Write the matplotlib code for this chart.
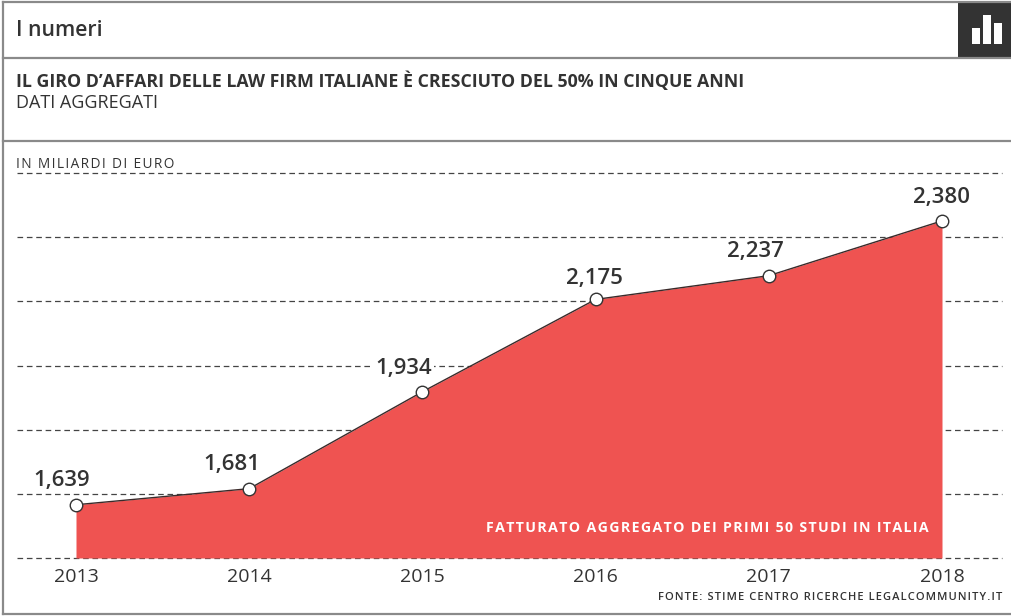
import matplotlib
matplotlib.use("Agg")
import matplotlib.pyplot as plt
from matplotlib.patches import Rectangle
from matplotlib.lines import Line2D

years = [2013, 2014, 2015, 2016, 2017, 2018]
revenue = [1639, 1681, 1934, 2175, 2237, 2380]
revenue_labels = ["1,639", "1,681", "1,934", "2,175", "2,237", "2,380"]
grid_levels = [1500, 1667.5, 1835, 2002.5, 2170, 2337.5, 2505]
header = "I numeri"
headline = "IL GIRO D\u2019AFFARI DELLE LAW FIRM ITALIANE È CRESCIUTO DEL 50% IN CINQUE ANNI"
subhead = "DATI AGGREGATI"
unit_note = "IN MILIARDI DI EURO"
area_note = "FATTURATO AGGREGATO DEI PRIMI 50 STUDI IN ITALIA"
source_note = "FONTE: STIME CENTRO RICERCHE LEGALCOMMUNITY.IT"
icon_bars = [16, 29, 21]

W, H = 1011, 616
DARK = "#333333"
RED = "#EF5351"
RULE = "#8a8a8a"
plt.rcParams["font.family"] = ["Open Sans", "Noto Sans", "DejaVu Sans"]


def tracked(text):
    """Open up the letter spacing of small caps-style captions."""
    return "\u200a".join(text)


fig = plt.figure(figsize=(W / 100, H / 100), dpi=100, facecolor="white")

# Page furniture lives on a full-figure layer measured in pixels from the top left
page = fig.add_axes([0, 0, 1, 1], zorder=0)
page.set_xlim(0, W)
page.set_ylim(H, 0)
page.axis("off")

for y in (2, 58, 141, 614):
    page.add_line(Line2D([3, W], [y, y], color=RULE, lw=1.6))
page.add_line(Line2D([3, 3], [2, 614], color=RULE, lw=1.6))

page.add_patch(Rectangle((958, 2), 53, 56, color="#333333", lw=0))
for bar_x, bar_h in zip((972, 983, 994), icon_bars):
    page.add_patch(Rectangle((bar_x, 44 - bar_h), 7.5, bar_h, color="white", lw=0))

page.text(16, 30, header, fontsize=15.2, fontweight="semibold", color=DARK, va="center", ha="left")
page.text(16, 81, headline, fontsize=12.77, fontweight="bold", color=DARK, va="center", ha="left")
page.text(16, 103, subhead, fontsize=13, color=DARK, va="center", ha="left")
page.text(16, 164, tracked(unit_note), fontsize=9.8, color=DARK, va="center", ha="left")
page.text(1002, 597, tracked(source_note), fontsize=8.0, fontweight="semibold", color=DARK,
          va="center", ha="right")

# Plot area spans the dashed grid: 173..558 px vertically, 17..1002 px horizontally
ax = fig.add_axes([17 / W, 1 - 558 / H, 985 / W, 385 / H], zorder=1)
ax.patch.set_alpha(0)
px_per_year = 173.2
ax.set_xlim(2013 - 59 / px_per_year, 2013 + 926 / px_per_year)
ax.set_ylim(grid_levels[0], grid_levels[-1])
for side in ax.spines.values():
    side.set_visible(False)

ax.set_yticks(grid_levels)
ax.tick_params(axis="y", left=False, labelleft=False)
ax.grid(axis="y", color="#444444", lw=0.9, ls=(0, (4.5, 3)), zorder=1)
ax.grid(axis="x", visible=False)
ax.set_axisbelow(True)
for gridline in ax.get_ygridlines():
    gridline.set_clip_on(False)

ax.fill_between(years, grid_levels[0], revenue, color=RED, lw=0, zorder=2)
ax.plot(years, revenue, color="#3a2a2a", lw=1.0, zorder=3)
ax.plot(years, revenue, ls="none", marker="o", ms=9, mfc="white", mec=DARK, mew=1.0,
        zorder=4, clip_on=False)

ax.set_xticks(years, [str(y) for y in years])
ax.tick_params(axis="x", bottom=False, pad=4, labelsize=14, labelcolor=DARK)

# Value labels sit above their markers; offsets are in pixels, up is positive
label_offsets = [(-14, 24), (-17, 24), (-19, 23), (-1, 21), (-13, 24), (0, 23)]
for year, value, text, (dx, dy) in zip(years, revenue, revenue_labels, label_offsets):
    ax.annotate(text, (year, value), xytext=(dx * 0.72, dy * 0.72), textcoords="offset points",
                ha="center", va="center", fontsize=16, color=DARK, fontweight="semibold",
                bbox=dict(facecolor="white", edgecolor="none", pad=1.5), zorder=5)

ax.text(0.926, 30 / 385, tracked(area_note), transform=ax.transAxes, fontsize=10.2,
        fontweight="bold", color="white", ha="right", va="center")

fig.savefig("out.png", dpi=100)
